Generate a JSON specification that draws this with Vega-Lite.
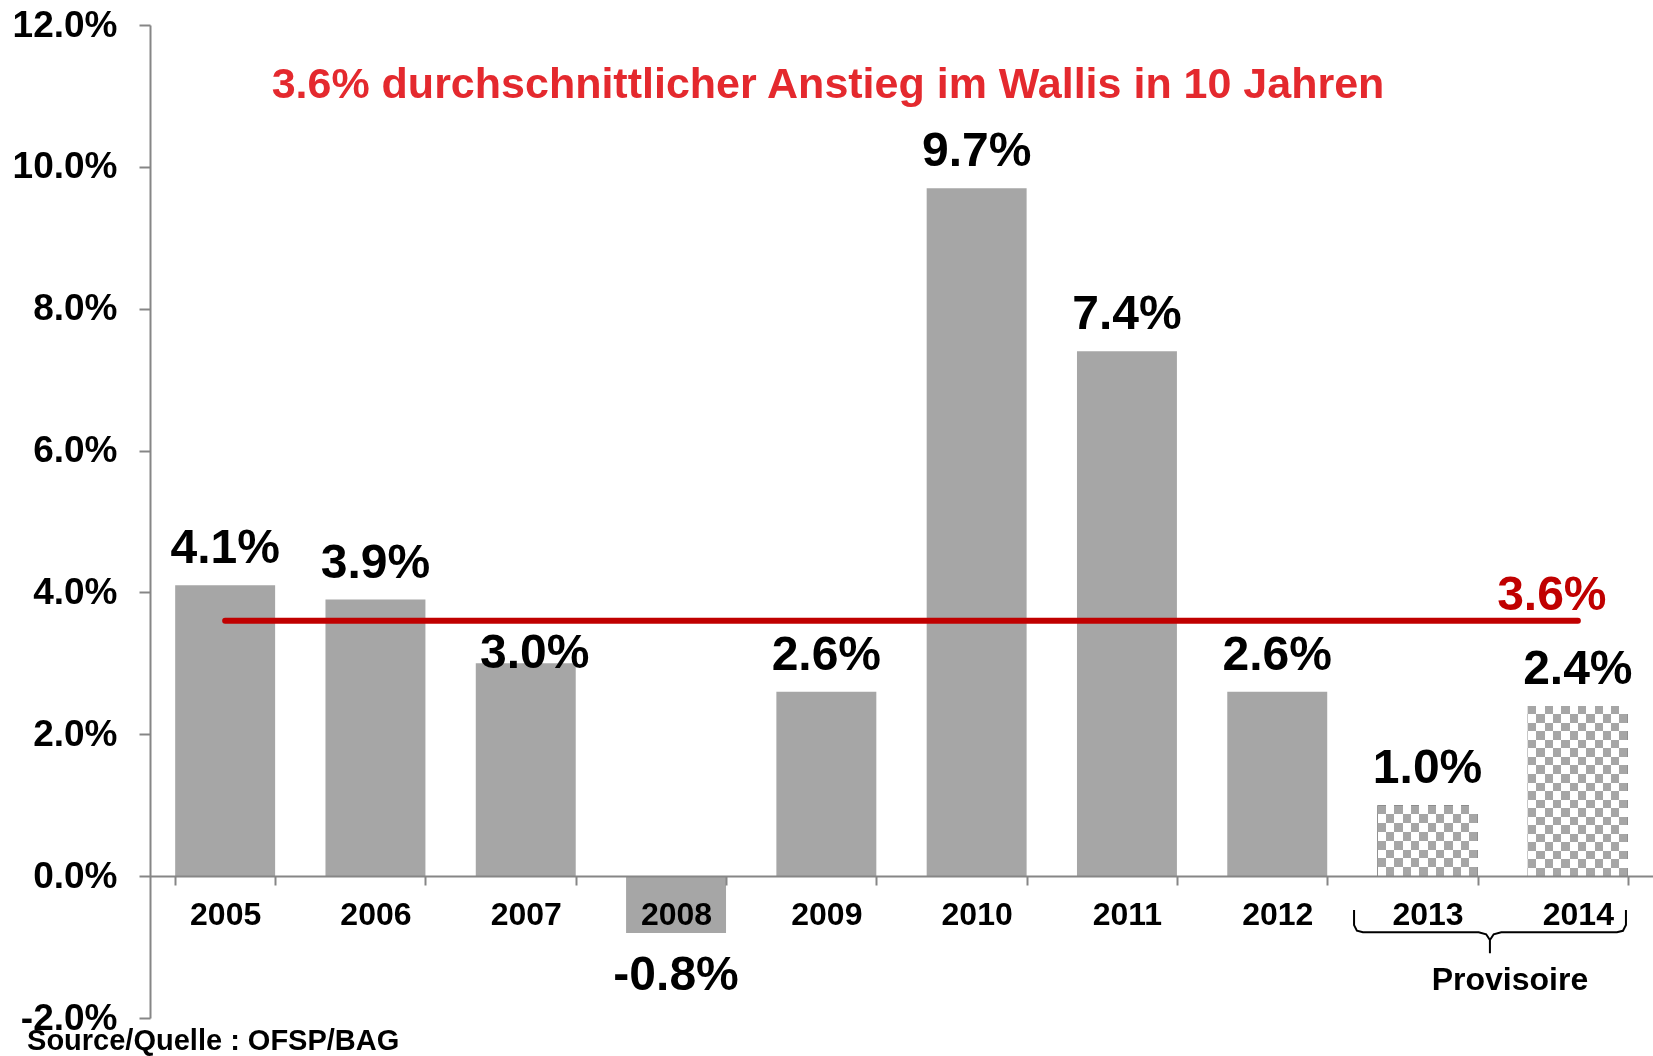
{
  "$schema": "https://vega.github.io/schema/vega-lite/v6.json",
  "width": 1503,
  "height": 993,
  "autosize": {"type": "none"},
  "padding": {"left": 150, "top": 25, "right": 0, "bottom": 38},
  "background": "white",
  "config": {
    "view": {"stroke": null},
    "font": "Liberation Sans",
    "locale": {"number": {"decimal": ".", "thousands": ",", "grouping": [3], "currency": ["", ""], "minus": "-"}}
  },
  "datasets": {
    "growth": [
      {"year": "2005", "value": 0.041, "status": "final"},
      {"year": "2006", "value": 0.039, "status": "final"},
      {"year": "2007", "value": 0.030, "status": "final"},
      {"year": "2008", "value": -0.008, "status": "final"},
      {"year": "2009", "value": 0.026, "status": "final"},
      {"year": "2010", "value": 0.097, "status": "final"},
      {"year": "2011", "value": 0.074, "status": "final"},
      {"year": "2012", "value": 0.026, "status": "final"},
      {"year": "2013", "value": 0.010, "status": "provisional"},
      {"year": "2014", "value": 0.024, "status": "provisional"}
    ],
    "average": [{"year": "2005", "end": "2014", "value": 0.036}],
    "brace": [
      {"step": 1, "xq": 8.011, "value": -0.00479},
      {"step": 2, "xq": 8.011, "value": -0.0069},
      {"step": 3, "xq": 8.03, "value": -0.0077},
      {"step": 4, "xq": 8.07, "value": -0.0079},
      {"step": 5, "xq": 8.84, "value": -0.0079},
      {"step": 6, "xq": 8.89, "value": -0.0082},
      {"step": 7, "xq": 8.915, "value": -0.009},
      {"step": 8, "xq": 8.915, "value": -0.01086},
      {"step": 9, "xq": 8.915, "value": -0.009},
      {"step": 10, "xq": 8.94, "value": -0.0082},
      {"step": 11, "xq": 8.99, "value": -0.0079},
      {"step": 12, "xq": 9.76, "value": -0.0079},
      {"step": 13, "xq": 9.8, "value": -0.0077},
      {"step": 14, "xq": 9.82, "value": -0.0069},
      {"step": 15, "xq": 9.82, "value": -0.00479}
    ],
    "notes": [
      {"kind": "headline", "note": "3.6% durchschnittlicher Anstieg im Wallis in 10 Jahren", "xq": 4.511, "value": 0.1097},
      {"kind": "provisional", "note": "Provisoire", "xq": 9.048, "value": -0.01607},
      {"kind": "source", "note": "Source/Quelle : OFSP/BAG", "xq": -0.818, "value": -0.02453}
    ]
  },
  "layer": [
    {
      "encoding": {
        "x": {
          "field": "year", "type": "ordinal",
          "scale": {"domain": ["2005","2006","2007","2008","2009","2010","2011","2012","2013","2014"], "paddingInner": 0.335, "paddingOuter": 0.1675},
          "axis": {
            "title": null, "labelAngle": 0, "offset": -142, "zindex": 1,
            "tickBand": "extent", "tickSize": 9, "tickWidth": 2, "tickColor": "#868686",
            "domainColor": "#868686", "domainWidth": 2,
            "labelFontSize": 32, "labelFontWeight": "bold", "labelColor": "#000000", "labelPadding": 14,
            "grid": false
          }
        },
        "y": {
          "field": "value", "type": "quantitative",
          "scale": {"domain": [-0.02, 0.12], "nice": false, "zero": false},
          "axis": {
            "title": null, "values": [-0.02, 0, 0.02, 0.04, 0.06, 0.08, 0.1, 0.12], "format": ".1%",
            "grid": false, "tickSize": 11, "tickWidth": 2, "tickColor": "#868686",
            "domainColor": "#868686", "domainWidth": 2,
            "labelFontSize": 37, "labelFontWeight": "bold", "labelColor": "#000000", "labelPadding": 22
          }
        }
      },
      "layer": [
        {
          "data": {"name": "growth"},
          "transform": [{"filter": "datum.status === 'final'"}],
          "mark": {"type": "bar", "color": "#a6a6a6"}
        },
        {
          "data": {"name": "growth"},
          "transform": [{"filter": "datum.status === 'provisional'"}],
          "mark": {"type": "bar", "fill": {"gradient": "linear", "x1": 0, "y1": 0, "x2": 1, "y2": 0, "stops": [
            {"offset": 0, "color": "#000000"}, {"offset": 0.0833, "color": "#000000"},
            {"offset": 0.0833, "color": "#ffffff"}, {"offset": 0.1667, "color": "#ffffff"},
            {"offset": 0.1667, "color": "#000000"}, {"offset": 0.25, "color": "#000000"},
            {"offset": 0.25, "color": "#ffffff"}, {"offset": 0.3333, "color": "#ffffff"},
            {"offset": 0.3333, "color": "#000000"}, {"offset": 0.4167, "color": "#000000"},
            {"offset": 0.4167, "color": "#ffffff"}, {"offset": 0.5, "color": "#ffffff"},
            {"offset": 0.5, "color": "#000000"}, {"offset": 0.5833, "color": "#000000"},
            {"offset": 0.5833, "color": "#ffffff"}, {"offset": 0.6667, "color": "#ffffff"},
            {"offset": 0.6667, "color": "#000000"}, {"offset": 0.75, "color": "#000000"},
            {"offset": 0.75, "color": "#ffffff"}, {"offset": 0.8333, "color": "#ffffff"},
            {"offset": 0.8333, "color": "#000000"}, {"offset": 0.9167, "color": "#000000"},
            {"offset": 0.9167, "color": "#ffffff"}, {"offset": 1, "color": "#ffffff"}
          ]}}
        },
        {
          "data": {"name": "growth"},
          "transform": [{"filter": "datum.year === '2014'"}],
          "mark": {"type": "bar", "blend": "difference", "fill": {"gradient": "linear", "x1": 0, "y1": 0, "x2": 0, "y2": 1, "stops": [
            {"offset": 0, "color": "#000000"}, {"offset": 0.05, "color": "#000000"},
            {"offset": 0.05, "color": "#ffffff"}, {"offset": 0.1, "color": "#ffffff"},
            {"offset": 0.1, "color": "#000000"}, {"offset": 0.15, "color": "#000000"},
            {"offset": 0.15, "color": "#ffffff"}, {"offset": 0.2, "color": "#ffffff"},
            {"offset": 0.2, "color": "#000000"}, {"offset": 0.25, "color": "#000000"},
            {"offset": 0.25, "color": "#ffffff"}, {"offset": 0.3, "color": "#ffffff"},
            {"offset": 0.3, "color": "#000000"}, {"offset": 0.35, "color": "#000000"},
            {"offset": 0.35, "color": "#ffffff"}, {"offset": 0.4, "color": "#ffffff"},
            {"offset": 0.4, "color": "#000000"}, {"offset": 0.45, "color": "#000000"},
            {"offset": 0.45, "color": "#ffffff"}, {"offset": 0.5, "color": "#ffffff"},
            {"offset": 0.5, "color": "#000000"}, {"offset": 0.55, "color": "#000000"},
            {"offset": 0.55, "color": "#ffffff"}, {"offset": 0.6, "color": "#ffffff"},
            {"offset": 0.6, "color": "#000000"}, {"offset": 0.65, "color": "#000000"},
            {"offset": 0.65, "color": "#ffffff"}, {"offset": 0.7, "color": "#ffffff"},
            {"offset": 0.7, "color": "#000000"}, {"offset": 0.75, "color": "#000000"},
            {"offset": 0.75, "color": "#ffffff"}, {"offset": 0.8, "color": "#ffffff"},
            {"offset": 0.8, "color": "#000000"}, {"offset": 0.85, "color": "#000000"},
            {"offset": 0.85, "color": "#ffffff"}, {"offset": 0.9, "color": "#ffffff"},
            {"offset": 0.9, "color": "#000000"}, {"offset": 0.95, "color": "#000000"},
            {"offset": 0.95, "color": "#ffffff"}, {"offset": 1, "color": "#ffffff"}
          ]}}
        },
        {
          "data": {"name": "growth"},
          "transform": [{"filter": "datum.year === '2013'"}],
          "mark": {"type": "bar", "blend": "difference", "fill": {"gradient": "linear", "x1": 0, "y1": 0, "x2": 0, "y2": 1, "stops": [
            {"offset": 0, "color": "#000000"}, {"offset": 0.125, "color": "#000000"},
            {"offset": 0.125, "color": "#ffffff"}, {"offset": 0.25, "color": "#ffffff"},
            {"offset": 0.25, "color": "#000000"}, {"offset": 0.375, "color": "#000000"},
            {"offset": 0.375, "color": "#ffffff"}, {"offset": 0.5, "color": "#ffffff"},
            {"offset": 0.5, "color": "#000000"}, {"offset": 0.625, "color": "#000000"},
            {"offset": 0.625, "color": "#ffffff"}, {"offset": 0.75, "color": "#ffffff"},
            {"offset": 0.75, "color": "#000000"}, {"offset": 0.875, "color": "#000000"},
            {"offset": 0.875, "color": "#ffffff"}, {"offset": 1, "color": "#ffffff"}
          ]}}
        },
        {
          "data": {"name": "growth"},
          "transform": [{"filter": "datum.status === 'provisional'"}],
          "mark": {"type": "bar", "color": "#a6a6a6", "blend": "lighten"}
        },
        {
          "data": {"name": "growth"},
          "transform": [{"filter": "datum.value >= 0 && datum.year !== '2007'"}],
          "mark": {"type": "text", "fontSize": 48, "fontWeight": "bold", "color": "#000000", "baseline": "alphabetic", "align": "center", "dy": -22},
          "encoding": {"text": {"field": "value", "type": "quantitative", "format": ".1%"}}
        },
        {
          "data": {"name": "growth"},
          "transform": [{"filter": "datum.year === '2007'"}],
          "mark": {"type": "text", "fontSize": 48, "fontWeight": "bold", "color": "#000000", "baseline": "alphabetic", "align": "center", "dy": 5, "dx": 9},
          "encoding": {"text": {"field": "value", "type": "quantitative", "format": ".1%"}}
        },
        {
          "data": {"name": "growth"},
          "transform": [{"filter": "datum.value < 0"}],
          "mark": {"type": "text", "fontSize": 48, "fontWeight": "bold", "color": "#000000", "baseline": "alphabetic", "align": "center", "dy": 57},
          "encoding": {"text": {"field": "value", "type": "quantitative", "format": ".1%"}}
        },
        {
          "data": {"name": "average"},
          "mark": {"type": "rule", "color": "#c00000", "strokeWidth": 6, "strokeCap": "round"},
          "encoding": {"x2": {"field": "end"}}
        },
        {
          "data": {"name": "average"},
          "mark": {"type": "text", "fontSize": 48, "fontWeight": "bold", "color": "#c00000", "baseline": "alphabetic", "align": "center", "dx": -26, "dy": -11},
          "encoding": {
            "x": {
              "field": "end", "type": "ordinal",
              "scale": {"domain": ["2005","2006","2007","2008","2009","2010","2011","2012","2013","2014"], "paddingInner": 0.335, "paddingOuter": 0.1675},
              "axis": {
                "title": null, "labelAngle": 0, "offset": -142, "zindex": 1,
                "tickBand": "extent", "tickSize": 9, "tickWidth": 2, "tickColor": "#868686",
                "domainColor": "#868686", "domainWidth": 2,
                "labelFontSize": 32, "labelFontWeight": "bold", "labelColor": "#000000", "labelPadding": 14,
                "grid": false
              }
            },
            "text": {"field": "value", "type": "quantitative", "format": ".1%"}
          }
        }
      ]
    },
    {
      "encoding": {
        "x": {"field": "xq", "type": "quantitative", "scale": {"domain": [0, 10], "nice": false, "zero": false}, "axis": null},
        "y": {
          "field": "value", "type": "quantitative",
          "scale": {"domain": [-0.02, 0.12], "nice": false, "zero": false},
          "axis": {
            "title": null, "values": [-0.02, 0, 0.02, 0.04, 0.06, 0.08, 0.1, 0.12], "format": ".1%",
            "grid": false, "tickSize": 11, "tickWidth": 2, "tickColor": "#868686",
            "domainColor": "#868686", "domainWidth": 2,
            "labelFontSize": 37, "labelFontWeight": "bold", "labelColor": "#000000", "labelPadding": 22
          }
        }
      },
      "layer": [
        {
          "data": {"name": "brace"},
          "mark": {"type": "line", "color": "#000000", "strokeWidth": 2},
          "encoding": {"order": {"field": "step", "type": "quantitative"}}
        },
        {
          "data": {"name": "notes"},
          "transform": [{"filter": "datum.kind === 'headline'"}],
          "mark": {"type": "text", "fontSize": 43, "fontWeight": "bold", "color": "#e4292e", "baseline": "alphabetic", "align": "center"},
          "encoding": {"text": {"field": "note"}}
        },
        {
          "data": {"name": "notes"},
          "transform": [{"filter": "datum.kind === 'provisional'"}],
          "mark": {"type": "text", "fontSize": 32, "fontWeight": "bold", "color": "#000000", "baseline": "alphabetic", "align": "center"},
          "encoding": {"text": {"field": "note"}}
        },
        {
          "data": {"name": "notes"},
          "transform": [{"filter": "datum.kind === 'source'"}],
          "mark": {"type": "text", "fontSize": 29, "fontWeight": "bold", "color": "#000000", "baseline": "alphabetic", "align": "left"},
          "encoding": {"text": {"field": "note"}}
        }
      ]
    }
  ],
  "resolve": {"scale": {"x": "independent"}}
}
